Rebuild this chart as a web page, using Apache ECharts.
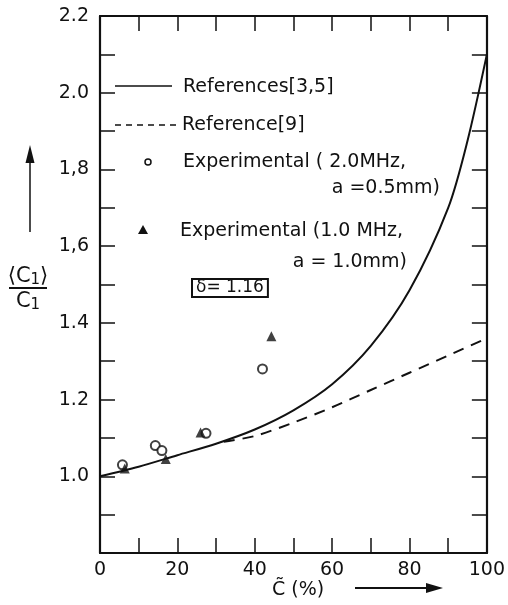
<!DOCTYPE html>
<html>
<head>
<meta charset="utf-8">
<script src="https://cdn.jsdelivr.net/npm/echarts@6.0.0/dist/echarts.min.js"></script>
<style>
  html, body { margin: 0; padding: 0; background: #fff; }
  #chart { width: 508px; height: 605px; }
</style>
</head>
<body>
<div id="chart"></div>
<script>
// curves
const curveX = [0, 10, 20, 30, 40, 50, 60, 70, 80, 90, 95, 100];
const refs35 = [1.0, 1.025, 1.055, 1.085, 1.122, 1.172, 1.24, 1.34, 1.485, 1.70, 1.875, 2.10];
const dashX = [32, 40, 50, 60, 70, 80, 90, 100];
const ref9 = [1.09, 1.105, 1.14, 1.18, 1.225, 1.27, 1.315, 1.36];

// experimental points
const exp2X = [5.8, 14.3, 16, 27.4, 42];
const exp2Y = [1.03, 1.08, 1.067, 1.112, 1.28];
const exp1X = [6.4, 17, 26, 44.3];
const exp1Y = [1.02, 1.045, 1.114, 1.365];

// tick labels
const xTickValues = [0, 20, 40, 60, 80, 100];
const yTickValues = [1.0, 1.2, 1.4, 1.6, 1.8, 2.0, 2.2];
const yTickLabels = ["1.0", "1.2", "1.4", "1,6", "1,8", "2.0", "2.2"];

const ink = "#111";
const FONT = '"DejaVu Sans", sans-serif';

const chart = echarts.init(document.getElementById("chart"));

const pairs = (xs, ys) => xs.map((x, i) => [x, ys[i]]);

const tickStyle = { show: true, inside: true, length: 15, lineStyle: { color: ink, width: 1.5 } };
const lineStyleAxis = { show: true, onZero: false, lineStyle: { color: ink, width: 2.2 } };

const option = {
  backgroundColor: "#fff",
  animation: false,
  grid: { left: 100, right: 17, top: 16, bottom: 52 },
  xAxis: [
    {
      type: "value", min: 0, max: 100, interval: 10,
      axisLine: lineStyleAxis,
      axisTick: tickStyle,
      splitLine: { show: false },
      axisLabel: {
        color: ink, fontSize: 19, fontFamily: FONT, margin: 8,
        formatter: (v) => (xTickValues.includes(v) ? String(v) : ""),
      },
    },
    {
      type: "value", position: "top", min: 0, max: 100, interval: 10,
      axisLine: lineStyleAxis,
      axisTick: tickStyle,
      splitLine: { show: false },
      axisLabel: { show: false },
    },
  ],
  yAxis: [
    {
      type: "value", min: 0.8, max: 2.2, interval: 0.1,
      axisLine: lineStyleAxis,
      axisTick: tickStyle,
      splitLine: { show: false },
      axisLabel: {
        color: ink, fontSize: 19, fontFamily: FONT, margin: 11,
        formatter: (v) => {
          const i = yTickValues.findIndex((t) => Math.abs(t - v) < 1e-6);
          return i >= 0 ? yTickLabels[i] : "";
        },
      },
    },
    {
      type: "value", position: "right", min: 0.8, max: 2.2, interval: 0.1,
      axisLine: lineStyleAxis,
      axisTick: tickStyle,
      splitLine: { show: false },
      axisLabel: { show: false },
    },
  ],
  series: [
    {
      name: "References[3,5]", type: "line", smooth: 0.3, showSymbol: false,
      data: pairs(curveX, refs35),
      lineStyle: { color: ink, width: 2 },
    },
    {
      name: "Reference[9]", type: "line", smooth: 0.3, showSymbol: false,
      data: pairs(dashX, ref9),
      lineStyle: { color: ink, width: 2, type: [11, 8] },
    },
    {
      name: "Experimental 2.0MHz", type: "scatter", symbol: "circle", symbolSize: 9,
      data: pairs(exp2X, exp2Y),
      itemStyle: { color: "#fff", borderColor: ink, borderWidth: 2 },
    },
    {
      name: "Experimental 1.0MHz", type: "scatter", symbol: "triangle", symbolSize: 10,
      data: pairs(exp1X, exp1Y),
      itemStyle: { color: ink },
    },
  ],
  graphic: [
    // legend
    { type: "line", shape: { x1: 115, y1: 86, x2: 172, y2: 86 }, style: { stroke: ink, lineWidth: 1.5 } },
    { type: "text", x: 183, y: 87, style: { text: "References[3,5]", font: "19px " + FONT, fill: ink, verticalAlign: "middle" } },
    { type: "line", shape: { x1: 115, y1: 125, x2: 180, y2: 125 }, style: { stroke: ink, lineWidth: 1.5, lineDash: [6, 5] } },
    { type: "text", x: 182, y: 125, style: { text: "Reference[9]", font: "19px " + FONT, fill: ink, verticalAlign: "middle" } },
    { type: "circle", shape: { cx: 148, cy: 162, r: 3 }, style: { fill: "#fff", stroke: ink, lineWidth: 1.5 } },
    { type: "text", x: 183, y: 162, style: { text: "Experimental ( 2.0MHz,", font: "19px " + FONT, fill: ink, verticalAlign: "middle" } },
    { type: "text", x: 440, y: 188, style: { text: "a =0.5mm)", font: "19px " + FONT, fill: ink, align: "right", verticalAlign: "middle" } },
    { type: "polygon", shape: { points: [[143, 225], [138, 234], [148, 234]] }, style: { fill: ink } },
    { type: "text", x: 180, y: 231, style: { text: "Experimental (1.0 MHz,", font: "19px " + FONT, fill: ink, verticalAlign: "middle" } },
    { type: "text", x: 407, y: 262, style: { text: "a = 1.0mm)", font: "19px " + FONT, fill: ink, align: "right", verticalAlign: "middle" } },
    {
      type: "text", x: 192, y: 288,
      style: {
        text: "δ= 1.16", font: "17px " + FONT, fill: ink, verticalAlign: "middle",
        borderColor: ink, borderWidth: 2, padding: [1, 4, 0, 4],
      },
    },
    // y axis title
    { type: "line", shape: { x1: 30, y1: 232, x2: 30, y2: 158 }, style: { stroke: ink, lineWidth: 1.5 } },
    { type: "polygon", shape: { points: [[30, 145], [25.5, 163], [34.5, 163]] }, style: { fill: ink } },
    {
      type: "text", x: 28, y: 277,
      style: {
        text: "{b|⟨C}{s|1}{b|⟩}", fill: ink, align: "center", verticalAlign: "middle",
        rich: { b: { fontSize: 21, fontFamily: FONT, fill: ink }, s: { fontSize: 15, fontFamily: FONT, fill: ink, padding: [6, 0, 0, 0] } },
      },
    },
    { type: "line", shape: { x1: 9, y1: 288, x2: 47, y2: 288 }, style: { stroke: ink, lineWidth: 2 } },
    {
      type: "text", x: 28, y: 302,
      style: {
        text: "{b|C}{s|1}", fill: ink, align: "center", verticalAlign: "middle",
        rich: { b: { fontSize: 21, fontFamily: FONT, fill: ink }, s: { fontSize: 15, fontFamily: FONT, fill: ink, padding: [6, 0, 0, 0] } },
      },
    },
    // x axis title
    { type: "text", x: 272, y: 590, style: { text: "C̃ (%)", font: "19px " + FONT, fill: ink, verticalAlign: "middle" } },
    { type: "line", shape: { x1: 355, y1: 588, x2: 428, y2: 588 }, style: { stroke: ink, lineWidth: 2 } },
    { type: "polygon", shape: { points: [[443, 588], [426, 583], [426, 593]] }, style: { fill: ink } },
  ],
};

chart.setOption(option);
window.addEventListener("resize", () => chart.resize());
</script>
</body>
</html>
